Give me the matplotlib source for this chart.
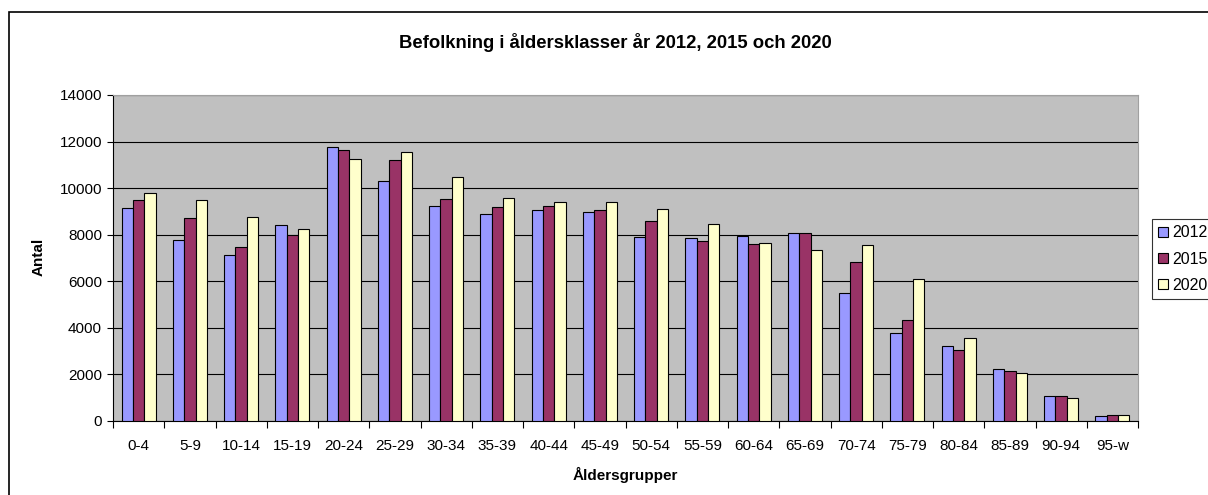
"""
Befolkning i åldersklasser år 2012, 2015 och 2020 - grouped bar chart.
"""

import numpy as np
import matplotlib
matplotlib.use('Agg')
import matplotlib.pyplot as plt
from matplotlib.patches import Rectangle

plt.rcParams['font.family'] = ['Liberation Sans', 'DejaVu Sans']

age_groups = ["0-4", "5-9", "10-14", "15-19", "20-24", "25-29", "30-34",
              "35-39", "40-44", "45-49", "50-54", "55-59", "60-64", "65-69",
              "70-74", "75-79", "80-84", "85-89", "90-94", "95-w"]
years = ["2012", "2015", "2020"]

pop_2012 = [9130, 7790, 7130, 8400, 11750, 10310, 9250, 8900, 9080, 8960,
            7900, 7840, 7960, 8060, 5510, 3780, 3220, 2220, 1060, 200]
pop_2015 = [9480, 8700, 7460, 7970, 11650, 11190, 9530, 9190, 9230, 9080,
            8570, 7740, 7590, 8060, 6840, 4340, 3060, 2160, 1060, 270]
pop_2020 = [9800, 9480, 8750, 8230, 11250, 11540, 10460, 9590, 9420, 9420,
            9090, 8460, 7630, 7330, 7570, 6110, 3550, 2050, 1000, 270]

colors = ["#9999FF", "#993366", "#FFFFCC"]

W, H = 1208, 495
fig = plt.figure(figsize=(W / 100, H / 100), dpi=100)
ax = fig.add_axes([113 / W, 1 - 421 / H, 1025 / W, 326 / H])
ax.set_facecolor("#C0C0C0")

x = np.arange(len(age_groups))
bw = 1 / 4.5
for i, (vals, col, lab) in enumerate(zip([pop_2012, pop_2015, pop_2020], colors, years)):
    ax.bar(x + (i - 1) * bw, vals, width=bw, color=col, edgecolor="black",
           linewidth=0.8, label=lab, zorder=3)

ax.set_xlim(-0.5, len(age_groups) - 0.5)
ax.set_ylim(0, 14000)
ax.set_yticks(np.arange(0, 14001, 2000))
ax.yaxis.grid(True, color="black", linewidth=0.8, zorder=1)
ax.set_axisbelow(True)

# category labels centred, ticks on the group boundaries
ax.set_xticks(x)
ax.set_xticklabels(age_groups, fontsize=11)
ax.tick_params(axis="x", length=0, pad=13)
ax.set_xticks(np.arange(-0.5, len(age_groups)), minor=True)
ax.tick_params(axis="x", which="minor", length=5, width=0.8, direction="out")
ax.tick_params(axis="y", labelsize=11, length=4, width=0.8, direction="out", pad=4)

for side in ["top", "right"]:
    ax.spines[side].set_color("#A0A0A0")
for side in ["left", "bottom"]:
    ax.spines[side].set_color("black")
    ax.spines[side].set_linewidth(0.8)

fig.text(615 / W, 1 - 42 / H, "Befolkning i åldersklasser år 2012, 2015 och 2020",
         ha="center", va="center", fontsize=13.3, fontweight="bold")
fig.text(625 / W, 1 - 475 / H, "Åldersgrupper", ha="center", va="center",
         fontsize=11, fontweight="bold")
fig.text(39 / W, 1 - 257 / H, "Antal", ha="center", va="center",
         fontsize=11, fontweight="bold", rotation=90)

leg = fig.legend(loc="upper left", bbox_to_anchor=(1152 / W, 1 - 219 / H),
                 fontsize=11.5, frameon=True, fancybox=False, edgecolor="black",
                 handlelength=0.6, handleheight=0.6, handletextpad=0.25,
                 borderpad=0.4, labelspacing=0.7, borderaxespad=0)
leg.get_frame().set_linewidth(0.8)

# outer chart border (runs off the right and bottom edge)
fig.patches.append(Rectangle((9 / W, -0.1), 1.2, 1.1 - 12 / H,
                             transform=fig.transFigure, fill=False,
                             edgecolor="black", linewidth=1.2))

fig.savefig("out.png", dpi=100, facecolor="white")
